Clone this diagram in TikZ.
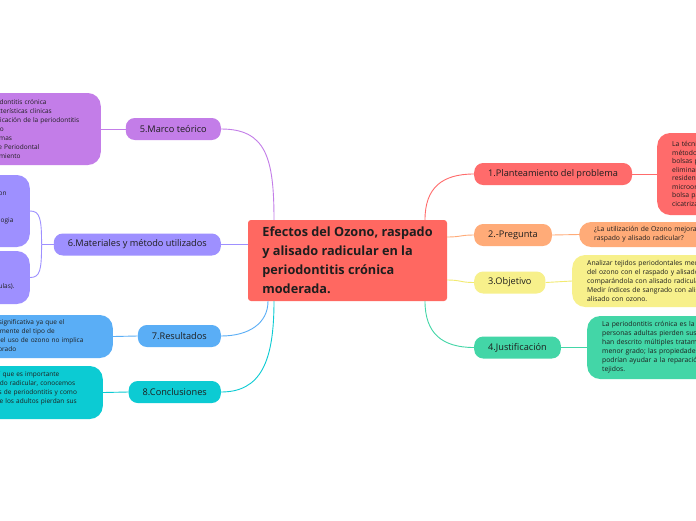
\documentclass[tikz,border=0pt]{standalone}
\usepackage{fontspec}
\setmainfont{Open Sans}
\usetikzlibrary{calc}
\definecolor{ccen}{HTML}{FF6861}
\definecolor{cplan}{HTML}{FF6B6B}
\definecolor{cpreg}{HTML}{FFAB78}
\definecolor{cobj}{HTML}{F7F08B}
\definecolor{cobjl}{HTML}{F2EA70}
\definecolor{cjust}{HTML}{43D6A7}
\definecolor{cmarco}{HTML}{C37DE8}
\definecolor{cmat}{HTML}{9E90FF}
\definecolor{cres}{HTML}{5AAEF6}
\definecolor{cconcl}{HTML}{0CCBD3}
\definecolor{ctext}{HTML}{1E1E1E}
\begin{document}
\begin{tikzpicture}[x=1pt,y=-1pt,
	topic/.style={ fill=ccen, rounded corners=3pt, align=left, minimum width=199pt, minimum height=81pt, inner sep=0pt, text=ctext, font=\fontsize{12.7}{19}\selectfont\bfseries },
	branch/.style={ rounded corners=9pt, minimum height=22pt, inner xsep=14pt, inner ysep=0pt, text=ctext, font=\fontsize{9.2}{11}\selectfont },
	leaf/.style={ rounded corners=13pt, inner xsep=15pt, inner ysep=0pt, align=left, text=ctext, font=\fontsize{6.8}{9}\selectfont },
	leafl/.style={ leaf, font=\fontsize{6.5}{9}\selectfont },
	link/.style={ line width=0.9pt }
]
\path[fill=white] (0,0) rectangle (696,520);
\useasboundingbox (0,0) rectangle (696,520);
\clip (0,0) rectangle (696,520);

\node[topic] at (347.5,260.5) (cen) {Efectos del Ozono, raspado\\y alisado radicular en la\\periodontitis crónica\\moderada.};

% right side
\node[branch, fill=cplan, anchor=west] at (474,174) (plan) {1.Planteamiento del problema};
\node[branch, fill=cpreg, anchor=west] at (474,235) (preg) {2.-Pregunta};
\node[branch, fill=cobj, anchor=west] at (474,282.5) (obj) {3.Objetivo};
\node[branch, fill=cjust, anchor=west] at (474,347.5) (just) {4.Justificación};

\node[leaf, fill=cplan, anchor=west, text width=200pt, minimum height=82pt, font=\fontsize{6.8}{8.5}\selectfont] at (657,174) (lplan) {La técnica convencional de raspado\\método de tratamiento en\\bolsas periodontales para\\eliminar cálculos y\\residentes de los\\microorganismos de la\\bolsa para permitir la\\cicatrización.};
\node[leaf, fill=cpreg, anchor=west, text width=200pt, minimum height=25pt, rounded corners=12pt] at (579,234.5) (lpreg) {¿La utilización de Ozono mejora el efecto del\\raspado y alisado radicular?};
\node[leaf, fill=cobj, anchor=west, text width=200pt, minimum height=52pt] at (572,281) (lobj) {Analizar tejidos periodontales mediante el uso\\del ozono con el raspado y alisado radicular\\comparándola con alisado radicular convencional.\\Medir índices de sangrado con alisado radicular y\\alisado con ozono.};
\node[leaf, fill=cjust, anchor=west, text width=200pt, minimum height=63pt] at (587,347.5) (ljust) {La periodontitis crónica es la causa por la cual\\personas adultas pierden sus dientes; se\\han descrito múltiples tratamientos con\\menor grado; las propiedades del ozono\\podrían ayudar a la reparación de los\\tejidos.};

% left side
\node[branch, fill=cmarco, anchor=east] at (221,129) (marco) {5.Marco teórico};
\node[branch, fill=cmat, anchor=east] at (221,244.5) (mat) {6.Materiales y método utilizados};
\node[branch, fill=cres, anchor=east] at (221,336) (res) {7.Resultados};
\node[branch, fill=cconcl, anchor=east] at (221,392) (concl) {8.Conclusiones};

\node[leafl, fill=cmarco, anchor=east, text width=102pt, minimum height=72pt] at (101,129) (lmarco) {Periodontitis crónica\\Características clinicas\\Clasificación de la periodontitis\\Ozono\\Síntomas\\Índice Periodontal\\Tratamiento};
\node[leafl, fill=cmat, anchor=east, text width=99pt, minimum height=72pt] at (30,211) (lmat1) {Estudio en 30 pacientes\\con periodontitis crónica, con\\moderada, según la\\Academia Americana de\\Clasificación de Periodontologia\\(2015), tratados con\\diferentes técnicas.};
\node[leafl, fill=cmat, anchor=east, text width=91pt, minimum height=53pt] at (30,277.5) (lmat2) {Materiales: equipo de\\ozonoterapia, sonda\\periodontal, curetas\\Gracey y ozono (en cápsulas).\\Control a 6 semanas.};
\node[leafl, fill=cres, anchor=east, text width=142pt, minimum height=43pt] at (113,336.5) (lres) {Diferencia no significativa ya que el\\independientemente del tipo de\\Por lo demás, el uso de ozono no implica\\un efecto mejorado};
\node[leafl, fill=cconcl, anchor=east, text width=134pt, minimum height=53pt] at (103,392.5) (lconcl) {Se concluye así que es importante\\raspado y alisado radicular, conocemos\\y diversos tipos de periodontitis y como\\y previenen que los adultos pierdan sus\\dientes.};

% connectors from the topic
\draw[link, cplan] ($(cen.north)+(77.5,0)$) .. controls +(0,-32) and +(-32,0) .. (plan.west);
\draw[link, cpreg] ($(cen.east)+(0,-23.5)$) .. controls +(14,0) and +(-14,0) .. (preg.west);
\draw[link, cobjl] ($(cen.east)+(0,19.5)$) .. controls +(14,0) and +(-14,0) .. (obj.west);
\draw[link, cjust] ($(cen.south)+(77.5,0)$) .. controls +(0,32) and +(-32,0) .. (just.west);
\draw[link, cmarco] ($(cen.north)+(-73.5,0)$) .. controls +(0,-62) and +(45,0) .. (marco.east);
\draw[link, cmat] ($(cen.west)+(0,-16)$) -- (mat.east);
\draw[link, cres] ($(cen.south)+(-79.5,0)$) .. controls +(0,22) and +(28,0) .. (res.east);
\draw[link, cconcl] ($(cen.south)+(-73.5,0)$) .. controls +(0,60) and +(40,0) .. (concl.east);

% connectors to the leaves
\draw[link, cplan] (plan.east) -- (lplan.west);
\draw[link, cpreg] (preg.east) -- (lpreg.west);
\draw[link, cobjl] (obj.east) -- (lobj.west);
\draw[link, cjust] (just.east) -- (ljust.west);
\draw[link, cmarco] (marco.west) -- (lmarco.east);
\draw[link, cres] (res.west) -- (lres.east);
\draw[link, cconcl] (concl.west) -- (lconcl.east);
\coordinate (jmat) at ($(mat.west)+(-12,0)$);
\draw[link, cmat] (mat.west) -- (jmat);
\draw[link, cmat] (jmat) .. controls +(0,-26) and +(10,0) .. (lmat1.east);
\draw[link, cmat] (jmat) .. controls +(0,26) and +(10,0) .. (lmat2.east);

\end{tikzpicture}
\end{document}
